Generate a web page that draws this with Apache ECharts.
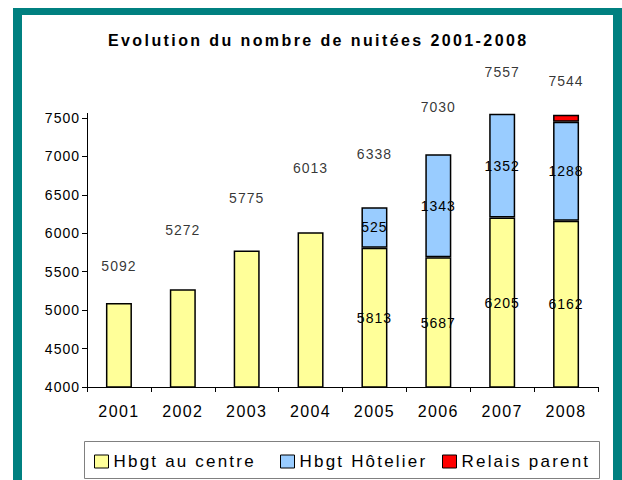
<!DOCTYPE html>
<html>
<head>
<meta charset="utf-8">
<script src="https://cdn.jsdelivr.net/npm/echarts@6/dist/echarts.min.js"></script>
<style>
html,body{margin:0;padding:0;background:#fff;}
#chart{width:622px;height:480px;}
</style>
</head>
<body>
<div id="chart"></div>
<script>
// ---- data ----
const years = ['2001','2002','2003','2004','2005','2006','2007','2008'];
const hbgtCentre = [5092, 5272, 5775, 6013, 5813, 5687, 6205, 6162];
const hbgtHotelier = [null, null, null, null, 525, 1343, 1352, 1288];
const relaisParent = [null, null, null, null, null, null, null, 94];
const seriesNames = ['Hbgt au centre', 'Hbgt Hôtelier', 'Relais parent'];
const yTickValues = [4000, 4500, 5000, 5500, 6000, 6500, 7000, 7500];
const titleText = 'Evolution du nombre de nuitées 2001-2008';

// ---- styling ----
const FONT = '"Liberation Sans", Arial, sans-serif';
const totalLabelLift = [37, 59, 53, 64, 53, 47, 42, 34];
const axisHeadroom = 60; // lets the tallest bar stay inside the plot clip

const totals = years.map((_, i) => (hbgtCentre[i] || 0) + (hbgtHotelier[i] || 0) + (relaisParent[i] || 0));
const yMin = yTickValues[0];
const yStep = yTickValues[1] - yTickValues[0];
const yMax = yTickValues[yTickValues.length - 1] + axisHeadroom;

const chart = echarts.init(document.getElementById('chart'), null, {renderer: 'svg'});

const numLabel = {color: '#000', fontSize: 14, fontFamily: FONT, textBorderWidth: 0, textBorderColor: 'transparent'};
const barBorder = {borderColor: '#000', borderWidth: 1.5};

function legendAt(name, left) {
  return {
    data: [name], left: left, top: 453, padding: 0,
    itemWidth: 14, itemHeight: 13, icon: 'rect', selectedMode: false,
    itemStyle: {borderColor: '#000', borderWidth: 1},
    textStyle: {fontSize: 17, color: '#000', fontFamily: FONT}
  };
}

chart.setOption({
  animation: false,
  graphic: [
    {type: 'rect', z: -10, shape: {x: 13, y: 8, width: 609, height: 472}, style: {fill: '#008080'}},
    {type: 'rect', z: -9, shape: {x: 22, y: 15, width: 591, height: 465}, style: {fill: '#ffffff'}},
    {type: 'rect', z: -8, shape: {x: 84.5, y: 441.5, width: 515, height: 37}, style: {fill: 'none', stroke: '#808080', lineWidth: 1}}
  ],
  title: {
    text: titleText, left: 108, top: 32, padding: 0,
    textStyle: {fontSize: 16, fontWeight: 'bold', color: '#000', fontFamily: FONT}
  },
  legend: [legendAt(seriesNames[0], 94), legendAt(seriesNames[1], 280), legendAt(seriesNames[2], 442)],
  grid: {left: 87, right: 24, top: 113.4, bottom: 93, containLabel: false},
  xAxis: {
    type: 'category', data: years, boundaryGap: true,
    axisLine: {lineStyle: {color: '#000', width: 1}},
    axisTick: {show: true, length: 5, lineStyle: {color: '#000'}},
    axisLabel: {fontSize: 16, color: '#000', fontFamily: FONT, margin: 16}
  },
  yAxis: {
    type: 'value', min: yMin, max: yMax, interval: yStep,
    splitLine: {show: false},
    axisLine: {show: true, lineStyle: {color: '#000', width: 1}},
    axisTick: {show: true, length: 5, lineStyle: {color: '#000'}, customValues: yTickValues},
    axisLabel: {fontSize: 14, color: '#000', fontFamily: FONT, margin: 7,
      customValues: yTickValues, formatter: v => String(v)}
  },
  series: [
    {
      name: seriesNames[0], type: 'bar', stack: 'n', barWidth: 26, clip: true,
      itemStyle: Object.assign({color: '#FFFF99'}, barBorder),
      label: Object.assign({position: 'inside'}, numLabel),
      data: hbgtCentre.map((v, i) => ({value: v, label: {show: hbgtHotelier[i] != null}}))
    },
    {
      name: seriesNames[1], type: 'bar', stack: 'n', barWidth: 26, clip: true,
      itemStyle: Object.assign({color: '#99CCFF'}, barBorder),
      label: Object.assign({show: true, position: 'inside'}, numLabel),
      data: hbgtHotelier.map(v => v == null ? '-' : v)
    },
    {
      name: seriesNames[2], type: 'bar', stack: 'n', barWidth: 26, clip: true,
      itemStyle: Object.assign({color: '#FF0000'}, barBorder),
      label: {show: false},
      data: relaisParent.map(v => v == null ? '-' : v)
    },
    {
      name: 'Total', type: 'scatter', symbolSize: 0, clip: false, silent: true,
      label: Object.assign({show: true, position: 'inside'}, numLabel),
      data: totals.map((v, i) => ({value: v, label: {offset: [0, -totalLabelLift[i]]}}))
    }
  ]
});

function applySpacing() {
  document.querySelectorAll('#chart text').forEach(t => {
    const s = t.textContent;
    let ls = '1px';
    if (s === titleText) ls = '2.4px';
    else if (seriesNames.indexOf(s) >= 0) ls = '2.2px';
    else if (years.indexOf(s) >= 0) ls = '1.4px';
    t.style.letterSpacing = ls;
  });
}
applySpacing();
chart.on('finished', applySpacing);
</script>
</body>
</html>
